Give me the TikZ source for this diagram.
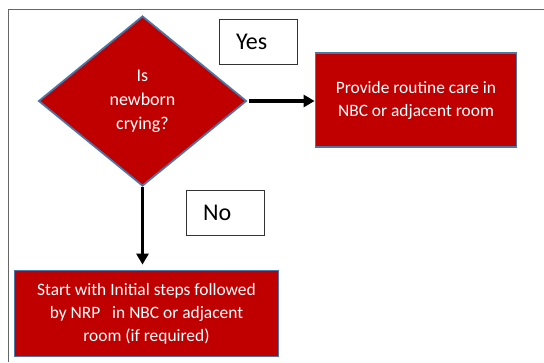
\documentclass[tikz,border=0pt]{standalone}
\usepackage{fontspec}
\setmainfont{Carlito}
\usetikzlibrary{shapes.geometric,arrows.meta,positioning}
\definecolor{boxred}{HTML}{C00000}
\definecolor{boxedge}{HTML}{4A76A8}
\begin{document}
\begin{tikzpicture}
[x=1pt, y=-1pt,
redbox/.style={shape=rectangle,draw=boxedge,line width=1.8pt,fill=boxred,text=white,
               align=center,font=\fontsize{17.4}{23}\selectfont,inner sep=0pt},
answer/.style={shape=rectangle,draw=black!80,line width=0.8pt,fill=white,
               text width=44pt,align=left,inner xsep=17pt,minimum height=45pt,
               font=\fontsize{24}{28}\selectfont},
arrow/.style={line width=3.8pt,-{Triangle[length=11pt,width=12pt]}}
]
\useasboundingbox (0,0) rectangle (544,362);
\draw[line width=1pt,black!60] (544,9) -- (8,9) -- (8,362);
\node[redbox,shape=diamond,minimum width=208pt,minimum height=170pt,
      font=\fontsize{18}{24}\selectfont] (crying) at (142.5,101)
    {Is\\newborn\\crying?};
\node[redbox,minimum width=201pt,minimum height=94pt] (routine) at (416,100)
    {Provide routine care in\\NBC or adjacent room};
\node[redbox,minimum width=264pt,minimum height=86pt] (initial) at (146.5,313.5)
    {Start with Initial steps followed\\by NRP \ \ in NBC or adjacent\\room (if required)};
\node[answer] (yes) at (258,41.5) {Yes};
\node[answer] (no) at (225,213) {No};
% connectors
\draw[arrow] ([xshift=2pt]crying.east) -- (crying.east -| routine.west);
\draw[arrow] (crying.south) -- ([yshift=5pt]crying.south |- initial.north);
\end{tikzpicture}
\end{document}
